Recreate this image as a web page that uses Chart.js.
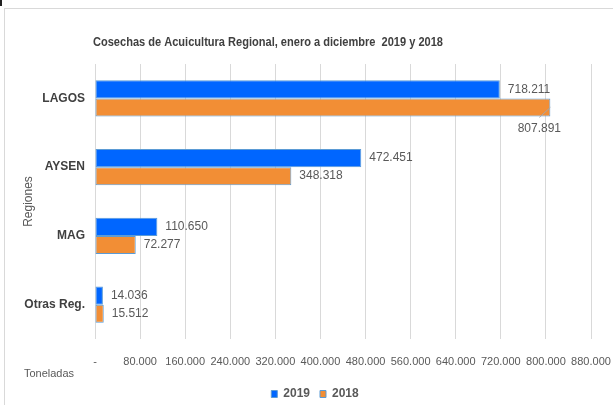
<!DOCTYPE html>
<html>
<head>
<meta charset="utf-8">
<script src="https://cdn.jsdelivr.net/npm/chart.js@4"></script>
<style>
  body { margin: 0; background: #fff; }
  .wrap { position: relative; width: 613px; height: 405px; }
  .frame { position: absolute; left: 4px; top: 8px; width: 620px; height: 420px; border: 1px solid #d9d9d9; }
  .mark { position: absolute; left: 0; top: 0; width: 2px; height: 6px; background: #222; }
  canvas { position: absolute; left: 0; top: 0; }
</style>
</head>
<body>
<div class="wrap">
  <div class="frame"></div>
  <div class="mark"></div>
  <canvas id="chart" width="613" height="405"></canvas>
</div>
<script>
// Datos de la figura
const regiones = ['LAGOS', 'AYSEN', 'MAG', 'Otras Reg.'];
const cosecha2019 = [718211, 472451, 110650, 14036];
const cosecha2018 = [807891, 348318, 72277, 15512];
const tituloGrafico = 'Cosechas de Acuicultura Regional, enero a diciembre  2019 y 2018';
const ejeX = 'Toneladas';
const ejeY = 'Regiones';

const gris = '#595959';
const fuente = "'Liberation Sans', Arial, sans-serif";

// Formato con punto de miles (718.211)
const formatNumber = (n) => String(Math.round(n)).replace(/\B(?=(\d{3})+(?!\d))/g, '.');

// Titulo, texto "Toneladas" y etiquetas de datos
const extraText = {
    id: 'extraText',
    afterDatasetsDraw(chart) {
        const ctx = chart.ctx;
        const area = chart.chartArea;
        ctx.save();

        // etiquetas de valores
        ctx.font = '12px ' + fuente;
        ctx.fillStyle = gris;
        ctx.textBaseline = 'middle';
        chart.data.datasets.forEach((ds, i) => {
            const meta = chart.getDatasetMeta(i);
            meta.data.forEach((bar, j) => {
                const txt = formatNumber(ds.data[j]);
                const w = ctx.measureText(txt).width;
                if (bar.x + 8 + w > area.right) {
                    // no cabe a la derecha: abajo con linea guia
                    ctx.strokeStyle = '#a6a6a6';
                    ctx.lineWidth = 1;
                    ctx.beginPath();
                    ctx.moveTo(bar.x, bar.y);
                    ctx.lineTo(bar.x - 11, bar.y + 10);
                    ctx.stroke();
                    ctx.textAlign = 'center';
                    ctx.fillText(txt, bar.x - 11, bar.y + 21);
                } else {
                    ctx.textAlign = 'left';
                    ctx.fillText(txt, bar.x + 8, bar.y);
                }
            });
        });

        // titulo
        ctx.font = 'bold 12px ' + fuente;
        ctx.fillStyle = '#404040';
        ctx.textAlign = 'left';
        ctx.fillText(tituloGrafico, 93, 43, 350);

        // titulo eje x
        ctx.font = '11px ' + fuente;
        ctx.fillStyle = gris;
        ctx.fillText(ejeX, 24, 374, 50);
        ctx.restore();
    }
};

const ctx = document.getElementById('chart').getContext('2d');
new Chart(ctx, {
    type: 'bar',
    data: {
        labels: regiones,
        datasets: [{
            label: '2019',
            data: cosecha2019,
            backgroundColor: '#0066ff',
            borderColor: '#5b9bd5',
            borderWidth: 1,
            borderSkipped: false
        }, {
            label: '2018',
            data: cosecha2018,
            backgroundColor: '#f28e35',
            borderColor: '#5b9bd5',
            borderWidth: 1,
            borderSkipped: false
        }]
    },
    options: {
        indexAxis: 'y',
        responsive: false,
        animation: false,
        events: [],
        categoryPercentage: 0.524,
        barPercentage: 1,
        layout: {
            padding: { top: 64, left: 20, right: 3, bottom: -5 }
        },
        scales: {
            x: {
                min: 0,
                max: 880000,
                ticks: {
                    stepSize: 80000,
                    padding: 16,
                    color: gris,
                    font: { family: fuente, size: 11 },
                    maxRotation: 0,
                    callback: (v) => v === 0 ? '-' : formatNumber(v)
                },
                grid: { color: '#d9d9d9', drawTicks: false },
                border: { display: false },
                afterFit: (scale) => {
                    scale.height = 39;
                    scale.paddingLeft = 0;
                    scale.paddingRight = 22;
                }
            },
            y: {
                ticks: {
                    padding: 10,
                    color: '#404040',
                    font: { family: fuente, size: 12, weight: 'bold' }
                },
                grid: { display: false, drawTicks: false },
                border: { display: false },
                title: {
                    display: true,
                    text: ejeY,
                    color: gris,
                    font: { family: fuente, size: 12 },
                    padding: { top: 1, bottom: 0 }
                },
                afterFit: (scale) => { scale.width = 75; }
            }
        },
        plugins: {
            legend: {
                position: 'bottom',
                labels: {
                    boxWidth: 6,
                    boxHeight: 7,
                    padding: 10,
                    color: gris,
                    font: { family: fuente, size: 12, weight: 'bold' }
                }
            },
            tooltip: { enabled: false }
        }
    },
    plugins: [extraText]
});
</script>
</body>
</html>
